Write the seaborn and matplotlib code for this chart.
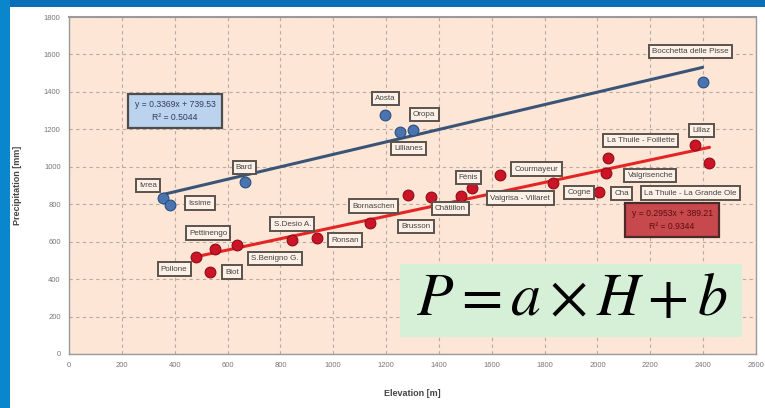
import numpy as np
import pandas as pd
import matplotlib
matplotlib.use("Agg")
import matplotlib.pyplot as plt
import seaborn as sns
from matplotlib.patches import Rectangle

# data: north-side (blue) and south-side (red) stations
blue_names = ["Ivrea", "Issime", "Bard", "Aosta", "Oropa", "Lillianes", "Bocchetta delle Pisse"]
blue_elev = [356, 383, 667, 1197, 1303, 1254, 2398]
blue_prec = [832, 795, 917, 1275, 1195, 1184, 1451]

red_names = ["Pollone", "Biot", "Pettinengo", "S.Benigno G.", "S.Desio A.", "Ronsan",
             "Bornaschen", "Brusson", "Châtillon", "Valgrisa - Villaret", "Fénis",
             "Courmayeur", "Cogne", "Cha", "La Thuile - Foillette", "Valgrisenche",
             "Lillaz", "La Thuile - La Grande Ole"]
red_elev = [481, 534, 553, 636, 845, 939, 1140, 1284, 1371, 1485, 1527, 1633,
            1833, 2004, 2038, 2034, 2371, 2424]
red_prec = [517, 437, 560, 581, 608, 619, 699, 848, 837, 843, 885, 955,
            912, 864, 1045, 965, 1115, 1019]

blue_eq = "y = 0.3369x + 739.53\nR² = 0.5044"
red_eq = "y = 0.2953x + 389.21\nR² = 0.9344"

x_ticks = list(range(0, 2601, 200))
y_ticks = list(range(0, 1801, 200))

# label offsets in pixels (dx, dy)
blue_offsets = [(-15, 13), (30, 2), (-1, 15), (0, 17), (11, 16), (8, -16), (-12, 31)]
red_offsets = [(-22, -12), (22, 0), (-7, 16), (38, -13), (0, 16), (28, -2), (3, 17),
               (8, -31), (19, -11), (59, -2), (-4, 11), (36, 6), (26, -9), (23, -1),
               (33, 18), (44, -2), (6, 15), (-19, -30)]

blue_df = pd.DataFrame({"elev": blue_elev, "prec": blue_prec, "name": blue_names})
red_df = pd.DataFrame({"elev": red_elev, "prec": red_prec, "name": red_names})

sns.set_style("white")
plt.rcParams["font.family"] = ["Liberation Sans", "DejaVu Sans"]
plt.rcParams["mathtext.fontset"] = "stix"

fig = plt.figure(figsize=(7.65, 4.08), dpi=100)
fig.patch.set_facecolor("white")

# blue frame around the slide
fig.add_artist(Rectangle((0, 0.983), 1, 0.017, transform=fig.transFigure,
                         facecolor="#0a6fb8", edgecolor="none"))
fig.add_artist(Rectangle((0, 0), 0.013, 1, transform=fig.transFigure,
                         facecolor="#0a86cc", edgecolor="none"))

ax = fig.add_axes([69 / 765, 54 / 408, 687 / 765, 337 / 408])
ax.set_facecolor("#fde6d6")

# trend lines
sns.regplot(data=blue_df, x="elev", y="prec", scatter=False, ci=None, ax=ax,
            line_kws={"color": "#3a5478", "lw": 2.2, "zorder": 3})
sns.regplot(data=red_df, x="elev", y="prec", scatter=False, ci=None, ax=ax,
            line_kws={"color": "#e52424", "lw": 2.2, "zorder": 3})

# points
sns.scatterplot(data=blue_df, x="elev", y="prec", ax=ax, s=60, color="#4a74b0",
                edgecolor="#2b4f80", linewidth=0.8, zorder=4, legend=False)
sns.scatterplot(data=red_df, x="elev", y="prec", ax=ax, s=60, color="#cc1426",
                edgecolor="#8c0d18", linewidth=0.8, zorder=4, legend=False)

box = dict(boxstyle="square,pad=0.4", facecolor="#fdf0e6", edgecolor="#5a524c", lw=1.4)
for df, offs in [(blue_df, blue_offsets), (red_df, red_offsets)]:
    for (x, y, name), (dx, dy) in zip(df[["elev", "prec", "name"]].values, offs):
        ax.annotate(name, (x, y), xytext=(dx, dy), textcoords="offset pixels",
                    ha="center", va="center", fontsize=5.8, color="#444444",
                    bbox=box, zorder=5)

# equation boxes
ax.text((175 - 69) / 687, (408 - 111 - 54) / 337, blue_eq,
        transform=ax.transAxes, ha="center", va="center", fontsize=6.2,
        color="#2d3e5c", linespacing=1.5, zorder=6,
        bbox=dict(boxstyle="square,pad=0.75", facecolor="#bcd3ee", edgecolor="#4d4d4d", lw=1.6))
ax.text((672 - 69) / 687, (408 - 220 - 54) / 337, red_eq,
        transform=ax.transAxes, ha="center", va="center", fontsize=6.2,
        color="#5a1010", linespacing=1.5, zorder=6,
        bbox=dict(boxstyle="square,pad=0.75", facecolor="#c8494d", edgecolor="#4d2a2a", lw=1.6))

ax.set_xlim(0, 2600)
ax.set_ylim(0, 1800)
ax.set_xticks(x_ticks)
ax.set_yticks(y_ticks)
ax.tick_params(labelsize=5.5, labelcolor="#777777", length=0, pad=6)
ax.grid(True, color="#b8aaa0", linestyle=(0, (3, 3)), lw=0.8)
for s in ax.spines.values():
    s.set_color("#9a9a9a")
    s.set_linewidth(1.0)
ax.spines["top"].set_linewidth(1.5)

ax.set_xlabel("Elevation [m]", fontsize=6.5, color="#444444", fontweight="bold", labelpad=14)
ax.set_ylabel("Precipitation [mm]", fontsize=6.5, color="#444444", fontweight="bold", labelpad=16)

# model formula
fig.add_artist(Rectangle((400 / 765, (408 - 337) / 408), 342 / 765, 73 / 408,
                         transform=fig.transFigure, facecolor="#d6f0d8", edgecolor="none"))
fig.text(572 / 765, (408 - 300) / 408, r"$P = a \times H + b$", ha="center", va="center",
         fontsize=43, color="black")

fig.savefig("out.png", dpi=100)
